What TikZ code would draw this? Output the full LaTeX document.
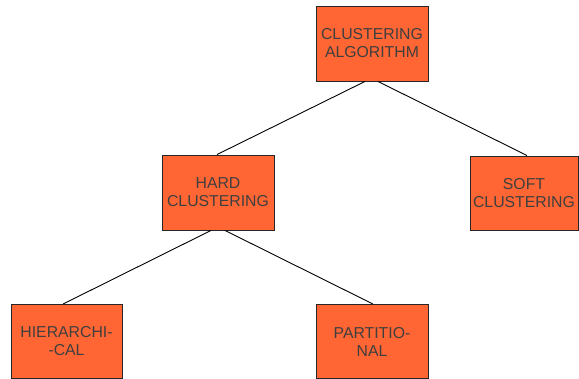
\documentclass[tikz,border=0pt]{standalone}
\usepackage{fontspec}
\setmainfont{Liberation Sans}
\begin{document}
\begin{tikzpicture}[x=1pt,y=-1pt,
  box/.style={draw=black!85, line width=0.9pt, fill=boxfill, text=boxtext,
    inner sep=0pt, align=center, font=\fontsize{15.8}{18}\selectfont},
  link/.style={draw=black, line width=0.9pt}]
\definecolor{boxfill}{HTML}{FF6633}
\definecolor{boxtext}{HTML}{3F3F3F}
\useasboundingbox (0,0) rectangle (579,379);

% category boxes
\node[box, minimum width=112pt, minimum height=75pt] (top) at (372,43.5) {CLUSTERING\\ALGORITHM};
\node[box, minimum width=112pt, minimum height=75pt] (hard) at (218,192.5) {HARD\\CLUSTERING};
\node[box, minimum width=108pt, minimum height=74pt] (soft) at (524,193) {SOFT\\CLUSTERING};
\node[box, minimum width=111pt, minimum height=74pt] (hier) at (66.5,341.5) {HIERARCHI-\\-CAL};
\node[box, minimum width=112pt, minimum height=74pt] (part) at (372,341.5) {PARTITIO-\\NAL};

% tree edges
\draw[link] ([xshift=-7pt]top.south) -- ([xshift=-1pt]hard.north);
\draw[link] ([xshift=6pt]top.south) -- ([xshift=3pt]soft.north);
\draw[link] ([xshift=-7pt]hard.south) -- ([xshift=-3.5pt]hier.north);
\draw[link] ([xshift=7pt]hard.south) -- ([xshift=1pt]part.north);
\end{tikzpicture}
\end{document}
